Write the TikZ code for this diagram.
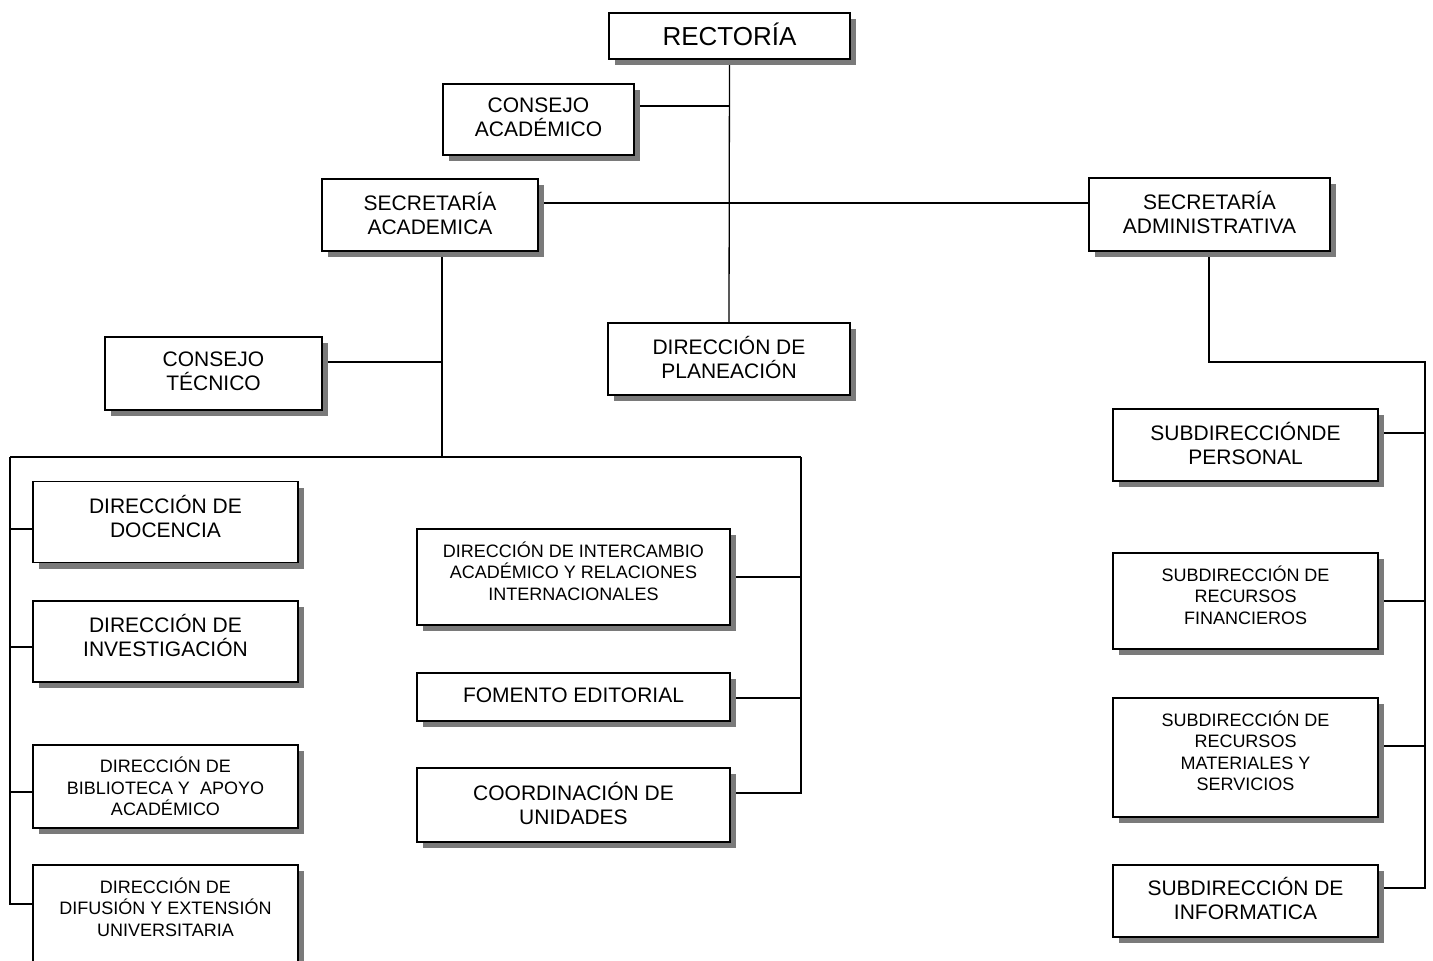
\documentclass[tikz,border=0pt]{standalone}
\usepackage{fontspec}
\setmainfont{Liberation Sans}
\usetikzlibrary{shadows,backgrounds}

\tikzset{
  unit/.style={draw, fill=white, line width=1.3pt, align=center, inner sep=0pt, text depth=4pt,
    drop shadow={shadow xshift=6pt, shadow yshift=-6pt, opacity=1, fill=black!52},
    font=\fontsize{21}{24}\selectfont},
  smallunit/.style={unit, font=\fontsize{18}{21.5}\selectfont},
  lift/.style={text depth=#1},
  link/.style={line width=1.3pt},
}

\begin{document}
\begin{tikzpicture}[x=1pt,y=-1pt]
    \useasboundingbox (0,0) rectangle (1433,961);

    % top
    \node[unit, minimum width=241, minimum height=46, font=\fontsize{26}{30}\selectfont] (rectoria) at (729.5,36) {RECTORÍA};
    \node[unit, minimum width=191, minimum height=71] (cacademico) at (538.5,119.5) {CONSEJO\\ACADÉMICO};
    \node[unit, minimum width=216, minimum height=72] (secacad) at (430,215) {SECRETARÍA\\ACADEMICA};
    \node[unit, minimum width=241, minimum height=73] (secadmin) at (1209.5,214.5) {SECRETARÍA\\ADMINISTRATIVA};
    \node[unit, minimum width=242, minimum height=72] (planeacion) at (729,359) {DIRECCIÓN DE\\PLANEACIÓN};
    \node[unit, minimum width=217, minimum height=73] (ctecnico) at (213.5,373.5) {CONSEJO\\TÉCNICO};

    % left column
    \node[unit, lift=12pt, minimum width=265, minimum height=81] (docencia) at (165.5,522) {DIRECCIÓN DE\\DOCENCIA};
    \node[unit, lift=12pt, minimum width=265, minimum height=81] (investigacion) at (165.5,641.5) {DIRECCIÓN DE\\INVESTIGACIÓN};
    \node[smallunit, lift=0pt, minimum width=265, minimum height=83] (biblioteca) at (165.5,786.5) {DIRECCIÓN DE\\BIBLIOTECA Y\ \ APOYO\\ACADÉMICO};
    \node[smallunit, lift=16pt, minimum width=265, minimum height=100] (difusion) at (165.5,915) {DIRECCIÓN DE\\DIFUSIÓN Y EXTENSIÓN\\UNIVERSITARIA};

    % middle column
    \node[smallunit, lift=12pt, minimum width=313, minimum height=96] (intercambio) at (573.5,577) {DIRECCIÓN DE INTERCAMBIO\\ACADÉMICO Y RELACIONES\\INTERNACIONALES};
    \node[unit, minimum width=313, minimum height=48] (fomento) at (573.5,697) {FOMENTO EDITORIAL};
    \node[unit, minimum width=313, minimum height=74] (coordinacion) at (573.5,805) {COORDINACIÓN DE\\UNIDADES};

    % right column
    \node[unit, minimum width=265, minimum height=72] (personal) at (1245.5,445) {SUBDIRECCIÓNDE\\PERSONAL};
    \node[smallunit, lift=12pt, minimum width=265, minimum height=96] (financieros) at (1245.5,601) {SUBDIRECCIÓN DE\\RECURSOS\\FINANCIEROS};
    \node[smallunit, lift=14pt, minimum width=265, minimum height=119] (materiales) at (1245.5,757.5) {SUBDIRECCIÓN DE\\RECURSOS\\MATERIALES Y\\SERVICIOS};
    \node[unit, lift=6pt, minimum width=265, minimum height=72] (informatica) at (1245.5,901) {SUBDIRECCIÓN DE\\INFORMATICA};

    % bus points
    \coordinate (jacad) at (729,106);
    \coordinate (jsec) at (729,203);
    \coordinate (jtec) at (442,362);
    \coordinate (jleft) at (10,457);
    \coordinate (jmid) at (442,457);
    \coordinate (jright) at (801,457);
    \coordinate (jadm) at (1209,362);
    \coordinate (jfar) at (1425,362);

    \begin{scope}[on background layer]
        \draw[link] (rectoria.south) -- (planeacion.north);
        \draw[link] (cacademico.east |- jacad) -- (jacad);
        \draw[link] (secacad.east |- jsec) -- (secadmin.west |- jsec);
        \draw[link] (secacad.south -| jmid) -- (jmid);
        \draw[link] (ctecnico.east |- jtec) -- (jtec);
        \draw[link] (jleft) -- (jright);
        % left bus
        \draw[link] (jleft) -- (10,904) -- (difusion.west |- 0,904);
        \foreach \n/\y in {docencia/529, investigacion/647, biblioteca/792}
            \draw[link] (10,\y) -- (\n.west |- 0,\y);
        % middle bus
        \draw[link] (jright) -- (801,793) -- (coordinacion.east |- 0,793);
        \foreach \n/\y in {intercambio/577, fomento/698}
            \draw[link] (801,\y) -- (\n.east |- 0,\y);
        % right bus
        \draw[link] (secadmin.south -| jadm) -- (jadm) -- (jfar) -- (1425,888) -- (informatica.east |- 0,888);
        \foreach \n/\y in {personal/433, financieros/601, materiales/746}
            \draw[link] (1425,\y) -- (\n.east |- 0,\y);
    \end{scope}
\end{tikzpicture}
\end{document}
